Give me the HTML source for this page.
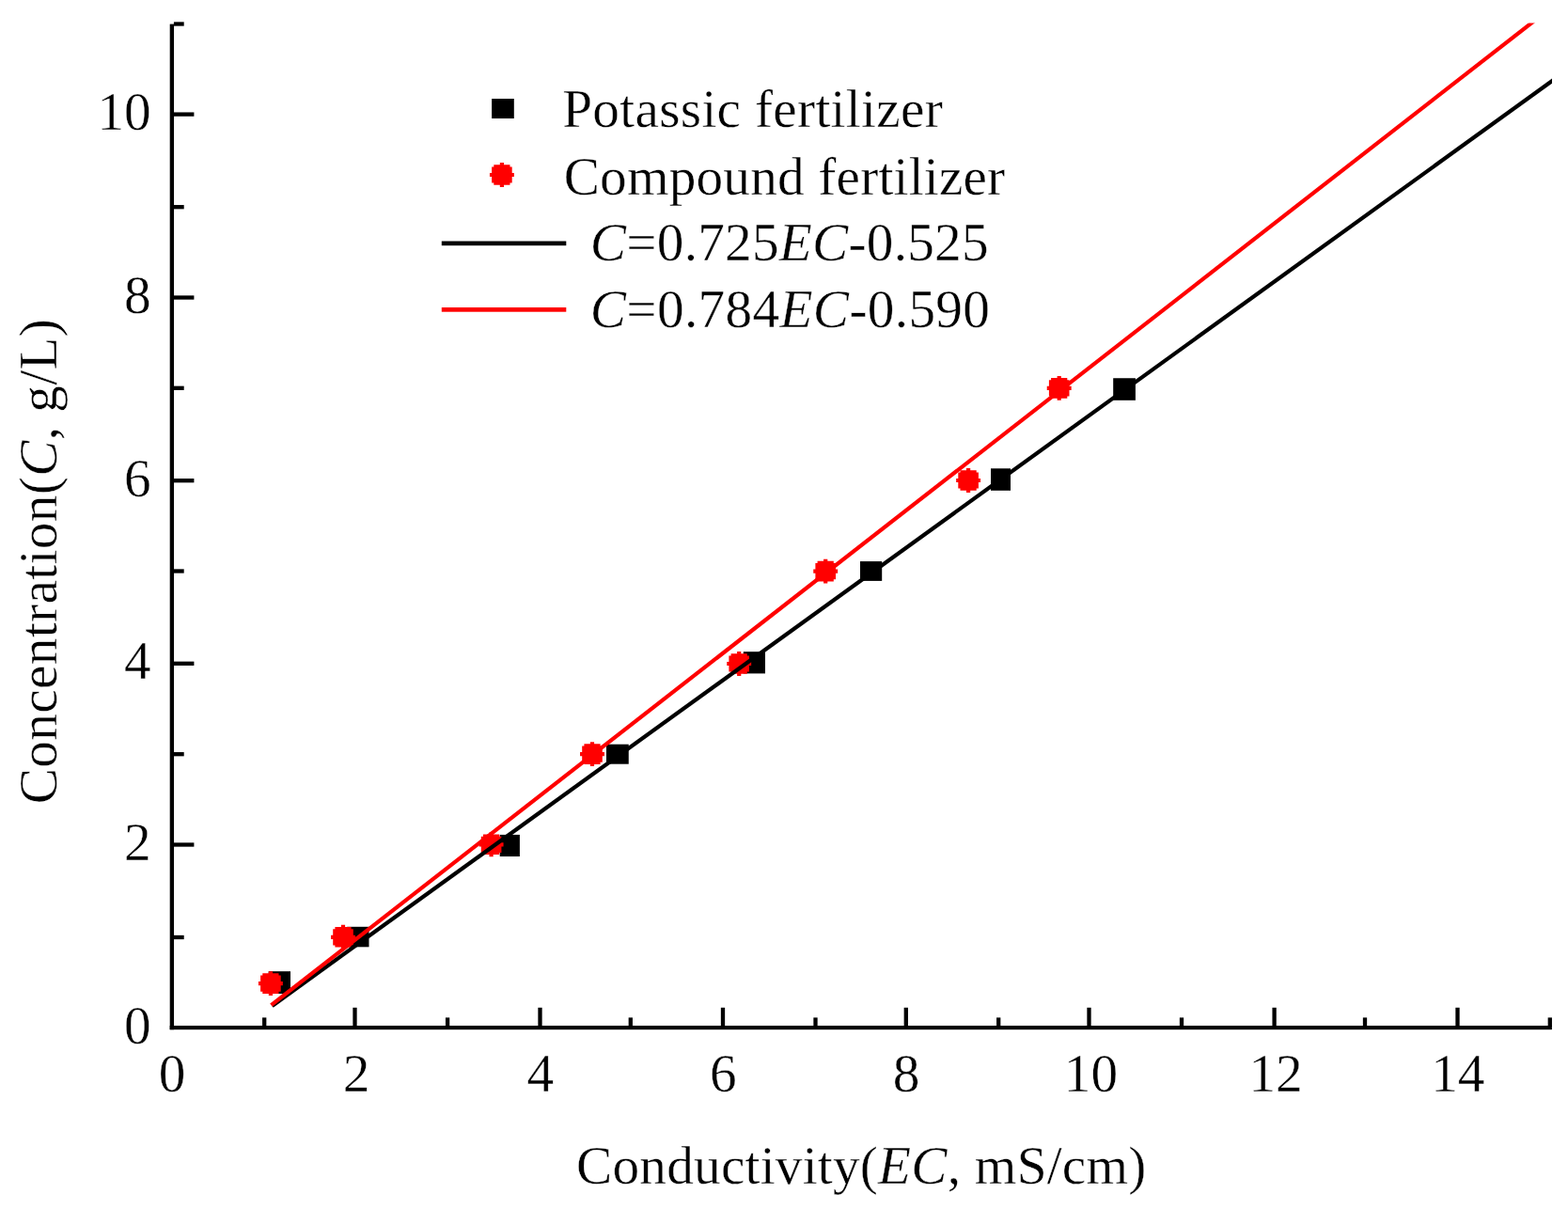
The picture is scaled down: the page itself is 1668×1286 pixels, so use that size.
<!DOCTYPE html>
<html lang="en"><head><meta charset="utf-8"><title>Concentration vs Conductivity</title>
<style>
html,body{margin:0;padding:0;background:#fff;}
body{width:1668px;height:1286px;overflow:hidden;}
svg{display:block;}
</style></head><body>
<svg width="1668" height="1286" viewBox="0 0 1668 1286" role="img" aria-label="Concentration versus conductivity for potassic and compound fertilizer">
<rect width="1668" height="1286" fill="#fff"/>
<g fill="#000">
<rect x="285.7" y="1033.2" width="23.3" height="23.8"/>
<rect x="369.2" y="985.8" width="23.3" height="21.5"/>
<rect x="531.7" y="887.9" width="21.2" height="23.1"/>
<rect x="645" y="791.7" width="23.75" height="21"/>
<rect x="790.8" y="693.2" width="23.2" height="23.2"/>
<rect x="915" y="597.1" width="23.2" height="20.8"/>
<rect x="1054" y="498.3" width="21" height="23.5"/>
<rect x="1184.2" y="402.25" width="23.7" height="23.55"/>
</g>
<g fill="#f00">
<path transform="translate(287.9 1046.1)" d="M2.1 -12.95 L2.1 -10.8 L8.6 -10.8 L8.6 -8.6 L10.8 -8.6 L10.8 -2.1 L12.95 -2.1 L12.95 2.1 L10.8 2.1 L10.8 8.6 L8.6 8.6 L8.6 10.8 L2.1 10.8 L2.1 12.95 L-2.1 12.95 L-2.1 10.8 L-8.6 10.8 L-8.6 8.6 L-10.8 8.6 L-10.8 2.1 L-12.95 2.1 L-12.95 -2.1 L-10.8 -2.1 L-10.8 -8.6 L-8.6 -8.6 L-8.6 -10.8 L-2.1 -10.8 L-2.1 -12.95 Z"/>
<path transform="translate(365 996.8)" d="M2.1 -12.95 L2.1 -10.8 L8.6 -10.8 L8.6 -8.6 L10.8 -8.6 L10.8 -2.1 L12.95 -2.1 L12.95 2.1 L10.8 2.1 L10.8 8.6 L8.6 8.6 L8.6 10.8 L2.1 10.8 L2.1 12.95 L-2.1 12.95 L-2.1 10.8 L-8.6 10.8 L-8.6 8.6 L-10.8 8.6 L-10.8 2.1 L-12.95 2.1 L-12.95 -2.1 L-10.8 -2.1 L-10.8 -8.6 L-8.6 -8.6 L-8.6 -10.8 L-2.1 -10.8 L-2.1 -12.95 Z"/>
<path transform="translate(522.6 898.3)" d="M2.1 -12.95 L2.1 -10.8 L8.6 -10.8 L8.6 -8.6 L10.8 -8.6 L10.8 -2.1 L12.95 -2.1 L12.95 2.1 L10.8 2.1 L10.8 8.6 L8.6 8.6 L8.6 10.8 L2.1 10.8 L2.1 12.95 L-2.1 12.95 L-2.1 10.8 L-8.6 10.8 L-8.6 8.6 L-10.8 8.6 L-10.8 2.1 L-12.95 2.1 L-12.95 -2.1 L-10.8 -2.1 L-10.8 -8.6 L-8.6 -8.6 L-8.6 -10.8 L-2.1 -10.8 L-2.1 -12.95 Z"/>
<path transform="translate(630 802.1)" d="M2.1 -12.95 L2.1 -10.8 L8.6 -10.8 L8.6 -8.6 L10.8 -8.6 L10.8 -2.1 L12.95 -2.1 L12.95 2.1 L10.8 2.1 L10.8 8.6 L8.6 8.6 L8.6 10.8 L2.1 10.8 L2.1 12.95 L-2.1 12.95 L-2.1 10.8 L-8.6 10.8 L-8.6 8.6 L-10.8 8.6 L-10.8 2.1 L-12.95 2.1 L-12.95 -2.1 L-10.8 -2.1 L-10.8 -8.6 L-8.6 -8.6 L-8.6 -10.8 L-2.1 -10.8 L-2.1 -12.95 Z"/>
<path transform="translate(786.2 706)" d="M2.1 -12.95 L2.1 -10.8 L8.6 -10.8 L8.6 -8.6 L10.8 -8.6 L10.8 -2.1 L12.95 -2.1 L12.95 2.1 L10.8 2.1 L10.8 8.6 L8.6 8.6 L8.6 10.8 L2.1 10.8 L2.1 12.95 L-2.1 12.95 L-2.1 10.8 L-8.6 10.8 L-8.6 8.6 L-10.8 8.6 L-10.8 2.1 L-12.95 2.1 L-12.95 -2.1 L-10.8 -2.1 L-10.8 -8.6 L-8.6 -8.6 L-8.6 -10.8 L-2.1 -10.8 L-2.1 -12.95 Z"/>
<path transform="translate(878.2 607.6)" d="M2.1 -12.95 L2.1 -10.8 L8.6 -10.8 L8.6 -8.6 L10.8 -8.6 L10.8 -2.1 L12.95 -2.1 L12.95 2.1 L10.8 2.1 L10.8 8.6 L8.6 8.6 L8.6 10.8 L2.1 10.8 L2.1 12.95 L-2.1 12.95 L-2.1 10.8 L-8.6 10.8 L-8.6 8.6 L-10.8 8.6 L-10.8 2.1 L-12.95 2.1 L-12.95 -2.1 L-10.8 -2.1 L-10.8 -8.6 L-8.6 -8.6 L-8.6 -10.8 L-2.1 -10.8 L-2.1 -12.95 Z"/>
<path transform="translate(1030.1 511)" d="M2.1 -12.95 L2.1 -10.8 L8.6 -10.8 L8.6 -8.6 L10.8 -8.6 L10.8 -2.1 L12.95 -2.1 L12.95 2.1 L10.8 2.1 L10.8 8.6 L8.6 8.6 L8.6 10.8 L2.1 10.8 L2.1 12.95 L-2.1 12.95 L-2.1 10.8 L-8.6 10.8 L-8.6 8.6 L-10.8 8.6 L-10.8 2.1 L-12.95 2.1 L-12.95 -2.1 L-10.8 -2.1 L-10.8 -8.6 L-8.6 -8.6 L-8.6 -10.8 L-2.1 -10.8 L-2.1 -12.95 Z"/>
<path transform="translate(1126.7 412.9)" d="M2.1 -12.95 L2.1 -10.8 L8.6 -10.8 L8.6 -8.6 L10.8 -8.6 L10.8 -2.1 L12.95 -2.1 L12.95 2.1 L10.8 2.1 L10.8 8.6 L8.6 8.6 L8.6 10.8 L2.1 10.8 L2.1 12.95 L-2.1 12.95 L-2.1 10.8 L-8.6 10.8 L-8.6 8.6 L-10.8 8.6 L-10.8 2.1 L-12.95 2.1 L-12.95 -2.1 L-10.8 -2.1 L-10.8 -8.6 L-8.6 -8.6 L-8.6 -10.8 L-2.1 -10.8 L-2.1 -12.95 Z"/>
</g>
<svg x="181" y="24.6" width="1470" height="1071" viewBox="181 24.6 1470 1071" overflow="hidden">
<g fill="none" stroke-width="4.2" stroke-linecap="butt">
<line x1="289.5" y1="1069.98" x2="1656" y2="82.54" stroke="#000"/>
<line x1="288.5" y1="1069.20" x2="1640" y2="16.04" stroke="#f00"/>
</g>
</svg>
<g fill="#000">
<rect x="180.7" y="25.6" width="4.35" height="1069.6"/>
<rect x="180.7" y="1091" width="1470.2" height="4.2"/>
<rect x="279.05" y="1082.4" width="4.3" height="9.5"/>
<rect x="375.35" y="1071.8" width="4.3" height="20"/>
<rect x="473.95" y="1082.4" width="4.3" height="9.5"/>
<rect x="572.35" y="1071.8" width="4.3" height="20"/>
<rect x="668.65" y="1082.4" width="4.3" height="9.5"/>
<rect x="766.85" y="1071.8" width="4.3" height="20"/>
<rect x="865.35" y="1082.4" width="4.3" height="9.5"/>
<rect x="961.65" y="1071.8" width="4.3" height="20"/>
<rect x="1060.05" y="1082.4" width="4.3" height="9.5"/>
<rect x="1156.35" y="1071.8" width="4.3" height="20"/>
<rect x="1254.85" y="1082.4" width="4.3" height="9.5"/>
<rect x="1353.45" y="1071.8" width="4.3" height="20"/>
<rect x="1449.85" y="1082.4" width="4.3" height="9.5"/>
<rect x="1548.35" y="1071.8" width="4.3" height="20"/>
<rect x="1646.65" y="1082.4" width="4.3" height="9.5"/>
<rect x="184.9" y="994.85" width="10.8" height="4.3"/>
<rect x="184.9" y="896.35" width="21.5" height="4.3"/>
<rect x="184.9" y="800.05" width="10.8" height="4.3"/>
<rect x="184.9" y="703.65" width="21.5" height="4.3"/>
<rect x="184.9" y="605.35" width="10.8" height="4.3"/>
<rect x="184.9" y="509.05" width="21.5" height="4.3"/>
<rect x="184.9" y="410.65" width="10.8" height="4.3"/>
<rect x="184.9" y="314.35" width="21.5" height="4.3"/>
<rect x="184.9" y="218.05" width="10.8" height="4.3"/>
<rect x="184.9" y="119.45" width="21.5" height="4.3"/>
<rect x="184.9" y="23.35" width="10.8" height="4.3"/>
</g>
<rect x="523.1" y="105" width="23.7" height="21" fill="#000"/>
<path transform="translate(533.9 186)" d="M2.1 -12.95 L2.1 -10.8 L8.6 -10.8 L8.6 -8.6 L10.8 -8.6 L10.8 -2.1 L12.95 -2.1 L12.95 2.1 L10.8 2.1 L10.8 8.6 L8.6 8.6 L8.6 10.8 L2.1 10.8 L2.1 12.95 L-2.1 12.95 L-2.1 10.8 L-8.6 10.8 L-8.6 8.6 L-10.8 8.6 L-10.8 2.1 L-12.95 2.1 L-12.95 -2.1 L-10.8 -2.1 L-10.8 -8.6 L-8.6 -8.6 L-8.6 -10.8 L-2.1 -10.8 L-2.1 -12.95 Z" fill="#f00"/>
<rect x="469.8" y="256.5" width="132.5" height="4.7" fill="#000"/>
<rect x="469.8" y="327" width="132.5" height="4.7" fill="#f00"/>
<g font-family="'Liberation Serif', 'Times New Roman', serif" font-size="57.3" fill="#000" stroke="#fff" stroke-width="0.4" stroke-linejoin="round">
<text x="183" y="1161" text-anchor="middle">0</text>
<text x="379" y="1161" text-anchor="middle">2</text>
<text x="574.8" y="1161" text-anchor="middle">4</text>
<text x="769.3" y="1161" text-anchor="middle">6</text>
<text x="964.1" y="1161" text-anchor="middle">8</text>
<text x="1160.5" y="1161" text-anchor="middle">10</text>
<text x="1357.1" y="1161" text-anchor="middle">12</text>
<text x="1550.8" y="1161" text-anchor="middle">14</text>
<text x="160.7" y="1109.5" text-anchor="end">0</text>
<text x="160.7" y="915" text-anchor="end">2</text>
<text x="160.7" y="722.3" text-anchor="end">4</text>
<text x="160.7" y="527.7" text-anchor="end">6</text>
<text x="160.7" y="333" text-anchor="end">8</text>
<text x="160.7" y="138.1" text-anchor="end">10</text>
<text x="598.2" y="134.5" letter-spacing="0.289">Potassic fertilizer</text>
<text x="599.7" y="207" letter-spacing="0.183">Compound fertilizer</text>
<text x="627.8" y="277.2" letter-spacing="0.221"><tspan font-style="italic">C</tspan>=0.725<tspan font-style="italic">EC</tspan>-0.525</text>
<text x="627.8" y="347.7" letter-spacing="0.321"><tspan font-style="italic">C</tspan>=0.784<tspan font-style="italic">EC</tspan>-0.590</text>
<text x="613" y="1259.4" letter-spacing="0.216">Conductivity(<tspan font-style="italic">EC</tspan>, mS/cm)</text>
<text transform="translate(60.3,855.3) rotate(-90)" x="0" y="0" letter-spacing="0.350">Concentration(<tspan font-style="italic">C</tspan>, g/L)</text>
</g>
</svg>
</body></html>
